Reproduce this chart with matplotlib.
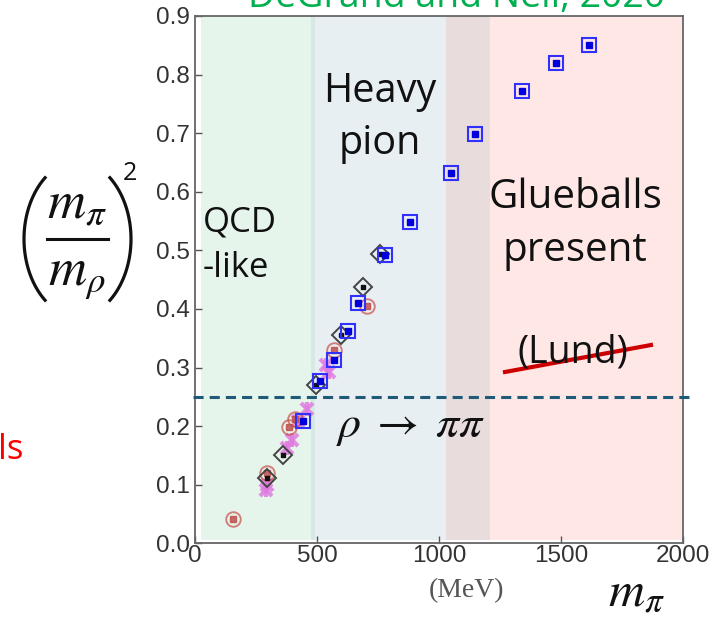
import matplotlib
matplotlib.use("Agg")
import numpy as np
import matplotlib.pyplot as plt
from matplotlib.lines import Line2D

plt.rcParams['mathtext.fontset'] = 'stix'

# ---- data ----
sq_x = [1615, 1481, 1339, 1149, 1049, 881, 779, 669, 628, 570, 512, 444]
sq_y = [0.851, 0.820, 0.772, 0.698, 0.632, 0.548, 0.492, 0.410, 0.363, 0.313, 0.277, 0.209]

dia_x = [758, 690, 597, 496, 359, 296]
dia_y = [0.494, 0.437, 0.355, 0.270, 0.151, 0.111]

circ_x = [703, 571, 410, 387, 296, 157]
circ_y = [0.405, 0.330, 0.212, 0.199, 0.120, 0.0415]

star_x = [551, 537, 458, 424, 396, 376, 296, 290]
star_y = [0.293, 0.304, 0.230, 0.208, 0.177, 0.162, 0.0995, 0.091]

x_ticks = [0, 500, 1000, 1500, 2000]
y_ticks = [0.0, 0.1, 0.2, 0.3, 0.4, 0.5, 0.6, 0.7, 0.8, 0.9]
y_ticklabels = ["0.0", "0.1", "0.2", "0.3", "0.4", "0.5", "0.6", "0.7", "0.8", "0.9"]

# region boundaries (MeV) and their shades
band_edges = [25, 475, 492, 1030, 1210, 2000]
band_colors = ["#e6f5ec", "#d6eae3", "#e8eff3", "#e8dcdd", "#ffe7e6"]
threshold = 0.25

W, H = 719, 617
fig = plt.figure(figsize=(W / 100, H / 100), dpi=100)
ax = fig.add_axes([195 / W, 1 - 543.3 / H, 488 / W, (543.3 - 16) / H])

for i, c in enumerate(band_colors):
    ax.axvspan(band_edges[i], band_edges[i + 1], ymin=0.006, ymax=1, color=c, lw=0, zorder=0)

ax.set_xlim(0, 2000)
ax.set_ylim(0, 0.9)

# threshold line extending slightly beyond the axes
ax.plot([-10, 2040], [threshold, threshold], color="#1f5b78", lw=2.2,
        linestyle=(0, (3.3, 2.0)), clip_on=False, zorder=3)

# markers
ax.plot(star_x, star_y, linestyle='none', marker='x', ms=9, mew=3, color="#e07ce0", alpha=0.85, zorder=4)
ax.errorbar(star_x, star_y, yerr=0.012, fmt='none', ecolor="#e07ce0", elinewidth=3, alpha=0.85, zorder=4)

ax.plot(circ_x, circ_y, linestyle='none', marker='o', ms=10.5, mfc='none', mec="#c8504a", mew=1.4, alpha=0.7, zorder=5)
ax.plot(circ_x, circ_y, linestyle='none', marker='s', ms=5, color="#c0504d", alpha=0.85, zorder=5)

ax.plot(dia_x, dia_y, linestyle='none', marker='D', ms=9.5, mfc='none', mec="#444444", mew=1.4, zorder=6)
ax.plot(dia_x, dia_y, linestyle='none', marker='s', ms=3.5, color="#111111", zorder=6)

ax.plot(sq_x, sq_y, linestyle='none', marker='s', ms=10, mfc='none', mec="#3030ff", mew=1.5, zorder=7)
ax.plot(sq_x, sq_y, linestyle='none', marker='s', ms=3.8, color="#0000dd", zorder=7)

ax.set_xticks(x_ticks)
ax.set_yticks(y_ticks)
ax.set_yticklabels(y_ticklabels)
ax.tick_params(direction='in', length=5, width=1, colors="#555555", labelcolor="#333333",
               labelsize=17.5)
ax.tick_params(axis='x', pad=1.5)
ax.tick_params(axis='y', pad=3.5)
for lab in ax.get_xticklabels() + ax.get_yticklabels():
    lab.set_fontfamily('Liberation Sans')
for s in ax.spines.values():
    s.set_color("#666666")
    s.set_linewidth(1.3)


def fx(px):
    return px / W


def fy(py):
    return 1 - py / H


txt = dict(family='Open Sans', color='#111111')
fig.text(fx(203), fy(245), "QCD\n-like", ha='left', va='center', linespacing=1.45, fontsize=25, **txt)
fig.text(fx(380), fy(118), "Heavy\npion", ha='center', va='center', linespacing=1.37, fontsize=28.5, **txt)
fig.text(fx(575), fy(224), "Glueballs\npresent", ha='center', va='center', linespacing=1.4, fontsize=29, **txt)
fig.text(fx(573), fy(353), "(Lund)", ha='center', va='center', fontsize=27, **txt)
fig.add_artist(Line2D([fx(505), fx(651)], [fy(372), fy(345)], color="#cc0000", lw=3, transform=fig.transFigure))

fig.text(fx(410), fy(425), r"$\rho\;\rightarrow\;\pi\pi$", ha='center', va='center', fontsize=33, color='#111111')
fig.text(fx(467), fy(591), "(MeV)", ha='center', va='center', family='Liberation Serif', fontsize=20, color='#555555')
fig.text(fx(636), fy(592), r"$m_\pi$", ha='center', va='center', fontsize=36, color='#111111')

# y label: (m_pi / m_rho)^2 built from pieces
fig.text(fx(77), fy(218), r"$m_\pi$", ha='center', va='baseline', fontsize=38, color='#111111')
fig.text(fx(77), fy(285), r"$m_\rho$", ha='center', va='baseline', fontsize=38, color='#111111')
fig.add_artist(Line2D([fx(47), fx(108)], [fy(239), fy(239)], color='#111111', lw=2.2, transform=fig.transFigure))
t = np.linspace(np.radians(130), np.radians(230), 60)
lx = 83 + 59 * np.cos(t)
ly = 239 + 80 * np.sin(t)
fig.add_artist(Line2D(fx(lx), fy(ly), color='#111111', lw=2.3, transform=fig.transFigure))
rx = 72 - 59 * np.cos(t)
fig.add_artist(Line2D(fx(rx), fy(ly), color='#111111', lw=2.3, transform=fig.transFigure))
fig.text(fx(130), fy(174), "2", ha='center', va='center', family='Open Sans', fontsize=18, color='#111111')

fig.text(fx(457), fy(7), "DeGrand and Neil, 2020", ha='center', va='baseline', family='Open Sans', fontsize=27, color='#00b050')
fig.text(fx(-2), fy(450), "ls", ha='left', va='center', family='Open Sans', fontsize=25, color='#ff0000')

fig.savefig("out.png", dpi=100)
